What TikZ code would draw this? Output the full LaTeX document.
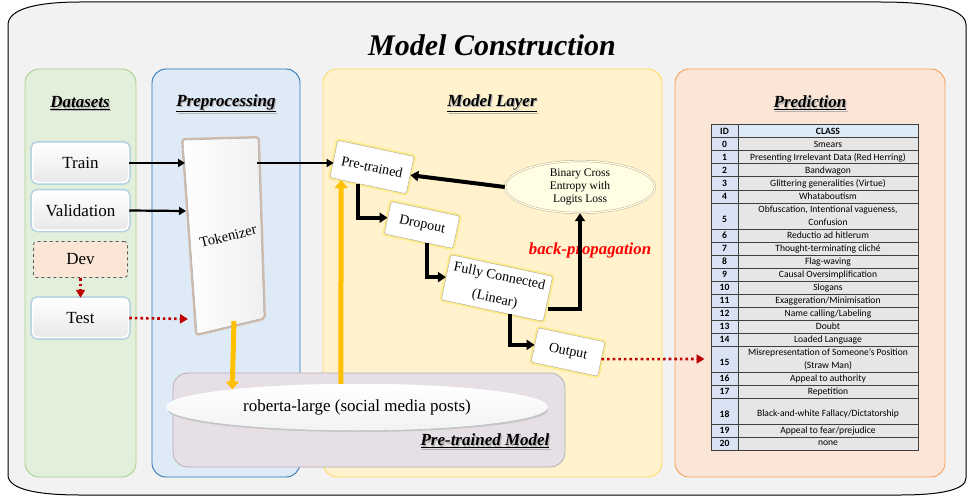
\documentclass[tikz,border=0pt]{standalone}
\usepackage{fontspec}
\setmainfont{Liberation Serif}
\newfontfamily\tablefont{Carlito}
\usepackage{tikz}
\usetikzlibrary{positioning,arrows.meta,calc,shapes.geometric}

\definecolor{framefill}{HTML}{F2F2F2}
\definecolor{dsfill}{HTML}{E2EFDA}
\definecolor{dsline}{HTML}{A9D18E}
\definecolor{prepfill}{HTML}{DEEBF7}
\definecolor{prepline}{HTML}{2E75B6}
\definecolor{layerfill}{HTML}{FFF2CC}
\definecolor{layerline}{HTML}{FFD966}
\definecolor{predfill}{HTML}{FBE5D6}
\definecolor{predline}{HTML}{F4A15D}
\definecolor{ptmfill}{HTML}{E6E0E6}
\definecolor{ptmline}{HTML}{B4B0B4}
\definecolor{devfill}{HTML}{FBE5D6}
\definecolor{glowblue}{HTML}{9DC3E6}
\definecolor{glowyellow}{HTML}{FFE55C}
\definecolor{tokglow}{HTML}{C8936A}
\definecolor{ambergold}{HTML}{FFC000}
\definecolor{dotred}{HTML}{C00000}
\definecolor{lossfill}{HTML}{FFFDE3}
\definecolor{lossline}{HTML}{BBA862}
\definecolor{idblue}{HTML}{DAE3F3}
\definecolor{headblue}{HTML}{DDEBF7}
\definecolor{clsgray}{HTML}{E7E6E6}
\definecolor{tabline}{HTML}{3F3F3F}

\begin{document}
\begin{tikzpicture}[x=1pt, y=-1pt,
    panel/.style={rounded corners=14pt, line width=0.9pt},
    heading/.style={font=\fontsize{17}{20}\selectfont\bfseries\itshape},
    dsbox/.style={rounded corners=5pt, minimum width=96pt, minimum height=39pt,
      top color=white, bottom color=gray!18, draw=white, line width=1.5pt,
      preaction={draw=glowblue, line width=4.5pt, draw opacity=0.7},
      font=\fontsize{17}{20}\selectfont},
    layerbox/.style={draw=gray!70, fill=white, rotate=-12, rounded corners=1.5pt,
      inner sep=2pt, align=center, font=\fontsize{14}{17}\selectfont,
      preaction={draw=glowyellow, line width=4pt, draw opacity=0.6}},
    lossnode/.style={ellipse, draw=lossline, double=white, double distance=1.2pt,
      fill=lossfill, minimum width=150pt, minimum height=52pt, inner sep=0pt,
      align=center, font=\fontsize{11.5}{13}\selectfont},
    flowarrow/.style={line width=2.2pt, -{Triangle[length=7pt,width=8pt]}},
    layerarrow/.style={line width=4pt, -{Triangle[length=8pt,width=10pt]}},
    goldarrow/.style={draw=ambergold, line width=5pt, -{Triangle[length=8pt,width=13pt]}},
    reddots/.style={draw=dotred, line width=2.6pt, dash pattern=on 2.6pt off 3pt,
      -{Triangle[length=8pt,width=9pt]}},
    idcell/.style={draw=tabline, line width=1pt, fill=idblue, minimum width=27pt,
      inner sep=0pt, align=center, font=\tablefont\fontsize{9.6}{13}\selectfont\bfseries},
    clscell/.style={draw=tabline, line width=1pt, fill=clsgray, minimum width=180pt,
      inner sep=0pt, align=center, font=\tablefont\fontsize{9.6}{13}\selectfont}]
\useasboundingbox (0,0) rectangle (968,497);

% outer frame
\draw[fill=framefill, line width=1pt] (8,25) .. controls (8,8) and (40,2) .. (80,2) -- (880,2)
  .. controls (930,2) and (966,8) .. (966,25) -- (966,478)
  .. controls (966,490) and (940,495) .. (900,495) -- (80,495)
  .. controls (40,495) and (8,490) .. (8,475) -- cycle;
\node[font=\fontsize{30}{35}\selectfont\bfseries\itshape] (title) at (492,45) {Model Construction};

% stage panels
\draw[panel, fill=dsfill, draw=dsline] (25,69) rectangle (136,477);
\draw[panel, fill=prepfill, draw=prepline] (152,69) rectangle (300,477);
\draw[panel, fill=layerfill, draw=layerline] (323,69) rectangle (662,477);
\draw[panel, fill=predfill, draw=predline] (675,69) rectangle (945,477);
\draw[rounded corners=15pt, fill=ptmfill, draw=ptmline, line width=0.8pt] (173,373) rectangle (565,467);

% headings with a soft shadow
\foreach \nm/\x/\y/\txt in {hdata/80/103/Datasets, hprep/226/103/Preprocessing,
    hlayer/492/103/Model Layer, hpred/810/103/Prediction, hptm/485/441/Pre-trained Model}{
  \node[heading, text=black!30] (\nm-shadow) at (\x+1.2,\y+1.6) {\underline{\txt}};
  \node[heading] (\nm) at (\x,\y) {\underline{\txt}};
}

% datasets
\node[dsbox] (train) at (80.5,163) {Train};
\node[dsbox] (valid) at (80.5,210.5) {Validation};
\node[rounded corners=3pt, minimum width=94pt, minimum height=36pt, fill=devfill,
  draw=black!65, dashed, line width=0.8pt, font=\fontsize{17}{20}\selectfont] (dev) at (80.5,259.5) {Dev};
\node[dsbox] (test) at (80.5,318) {Test};

% tokenizer sheet
\coordinate (tokTL) at (183,140);
\coordinate (tokTR) at (258,138);
\coordinate (tokBR) at (264,318);
\coordinate (tokBL) at (197,334);
\draw[tokglow, line width=4pt, draw opacity=0.55, rounded corners=2pt] (tokTL) -- (tokTR) -- (tokBR) -- (tokBL) -- cycle;
\draw[left color=white, right color=gray!12, draw=gray!60, line width=0.6pt, rounded corners=2pt]
  (tokTL) -- (tokTR) -- (tokBR) -- (tokBL) -- cycle;
\node[rotate=14, font=\fontsize{14.5}{17}\selectfont] (tok) at (228,236) {Tokenizer};
\coordinate (tokA) at (185,163);
\coordinate (tokV) at (186,211);
\coordinate (tokT) at (188,319);
\coordinate (tokR) at (257,163);
\coordinate (tokB) at (234,321);

% pre-trained model
\fill[gray!45] (358,410) ellipse [x radius=190, y radius=22];
\node[ellipse, minimum width=381pt, minimum height=46pt, inner sep=0pt, top color=white,
  bottom color=gray!10, draw=white, font=\fontsize{17}{20}\selectfont] (rob) at (357,407)
  {roberta-large (social media posts)};

% model layers
\node[layerbox, minimum width=78pt, minimum height=38pt] (pre) at (372,167) {Pre-trained};
\node[layerbox, minimum width=70pt, minimum height=33pt] (drop) at (422,225) {Dropout};
\node[layerbox, minimum width=104pt, minimum height=46pt] (fc) at (497,288) {Fully Connected\\[6pt](Linear)};
\node[layerbox, minimum width=68pt, minimum height=35pt] (out) at (568,352) {Output};
\node[lossnode] (loss) at (580,187) {Binary Cross\\Entropy with\\Logits Loss};
\node[text=red, font=\fontsize{16.8}{19}\selectfont\bfseries\itshape] (bp) at (590,250) {back-propagation};

% data flow
\draw[flowarrow] (train.east) -- (tokA);
\draw[flowarrow] (valid.east) -- (tokV);
\draw[reddots] (dev.south) -- (test.north);
\draw[reddots] (test.east) -- (tokT);
\draw[flowarrow] (tokR) -- (tokR -| pre.west);
\draw[goldarrow] (tokB) -- (rob.172);
\draw[goldarrow] (rob.125) -- ($(pre.south west)!0.15!(pre.south east)$);

\draw[layerarrow] ($(pre.south)!0.25!(pre.south west)$) |- (drop.west);
\draw[layerarrow] ($(drop.south)!0.25!(drop.south east)$) |- (fc.west);
\draw[layerarrow] ($(fc.south)!0.35!(fc.south east)$) |- (out.west);
\draw[layerarrow] ([yshift=-10pt]fc.east) -| (loss.south);
\draw[layerarrow] (loss.west) -- (pre.east);

% prediction classes
\node[idcell, minimum height=13pt] (idhead) at (724.5,131.5) {ID};
\node[clscell, minimum height=13pt, fill=headblue, font=\tablefont\fontsize{9.6}{13}\selectfont\bfseries] (clshead) at (828,131.5) {CLASS};
\foreach \id/\yc/\h/\cls in {0/144.5/13/Smears,
    1/157.5/13/{Presenting Irrelevant Data (Red Herring)},
    2/170.5/13/Bandwagon,
    3/183.5/13/{Glittering generalities (Virtue)},
    4/196.5/13/Whataboutism,
    5/216/26/{Obfuscation, Intentional vagueness,\\Confusion},
    6/235.5/13/{Reductio ad hitlerum},
    7/248.5/13/{Thought-terminating cliché},
    8/261.5/13/Flag-waving,
    9/274.5/13/{Causal Oversimplification},
    10/287.5/13/Slogans,
    11/300.5/13/{Exaggeration/Minimisation},
    12/313.5/13/{Name calling/Labeling},
    13/326.5/13/Doubt,
    14/339.5/13/{Loaded Language},
    15/359/26/{Misrepresentation of Someone’s Position\\(Straw Man)},
    16/378.5/13/{Appeal to authority},
    17/391.5/13/Repetition,
    18/411/26/{\mbox{}\\Black-and-white Fallacy/Dictatorship},
    19/430.5/13/{Appeal to fear/prejudice},
    20/443.5/13/none}{
  \node[idcell, minimum height=\h pt] (id\id) at (724.5,\yc) {\ifnum\h>13 \mbox{}\\\fi\id};
  \node[clscell, minimum height=\h pt] (cls\id) at (828,\yc) {\cls};
}
\draw[reddots, shorten >=6pt] (out.east) -- (id15.west);
\end{tikzpicture}
\end{document}
